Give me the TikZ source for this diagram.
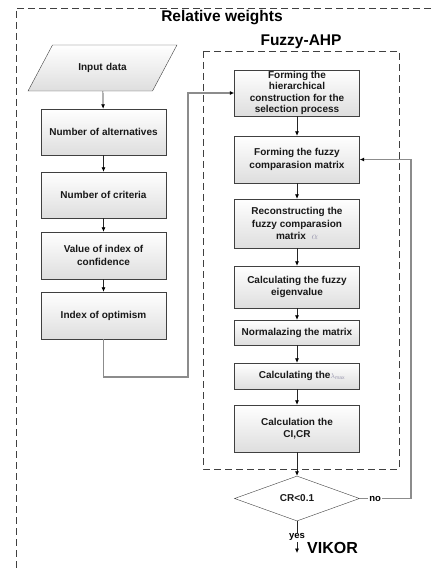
\documentclass[tikz,border=0pt]{standalone}
\usepackage{fontspec}
\setmainfont{Liberation Sans}
\usetikzlibrary{positioning,shapes.geometric,arrows.meta,calc}
\definecolor{bxline}{HTML}{404040}
\definecolor{lnk}{HTML}{8C8C8C}
\definecolor{mathgrey}{HTML}{9A98B0}
\tikzset{
  blk/.style ={rectangle, draw=bxline, thin, top color=white, bottom color=black!13,
               text=black!90, align=center, font=\fontsize{10}{12.5}\selectfont\bfseries,
               minimum width=125pt, minimum height=46pt, inner sep=1pt},
  io/.style  ={blk, trapezium, trapezium left angle=62, trapezium right angle=118,
               minimum width=0pt, minimum height=0pt, text width=98pt,
               text height=7pt, text depth=2pt, inner xsep=1pt, inner ysep=18.5pt},
  dec/.style ={blk, diamond, aspect=2.8, fill=white, top color=white, bottom color=white,
               minimum width=125pt, minimum height=45pt, inner sep=0pt},
  grp/.style ={draw=bxline, dash pattern=on 7pt off 4pt, line width=0.8pt},
  ttl/.style ={font=\fontsize{15.5}{17}\selectfont\bfseries, inner sep=0pt},
  fl/.style  ={-{Latex[length=4.5pt,width=4pt,color=black]}, draw=black!85, line width=0.7pt},
  flg/.style ={fl, draw=lnk, line width=1.1pt},
  lbl/.style ={font=\fontsize{9.5}{10}\selectfont\bfseries, fill=white, inner sep=1pt}
}

\begin{document}
\begin{tikzpicture}[x=1pt,y=-1pt]
  \useasboundingbox (0,0) rectangle (431,569);
  % --- group frames
  \draw[grp] (431,8) -- (16,8) -- (16,569);
  \draw[grp] (203,51) rectangle (399,469);
  \node[ttl] (tw)  at (222,18) {Relative weights};
  \node[ttl] (tf)  at (301,42) {Fuzzy-AHP};
  % --- left column : inputs
  \node[io]                       (inp)  at (102.5,68)  {Input data};
  \node[blk]                      (alt)  at (103.5,132) {Number of alternatives};
  \node[blk]                      (crit) at (103.5,195) {Number of criteria};
  \node[blk,minimum height=47pt]  (conf) at (103.5,255.5) {Value of index of\\confidence};
  \node[blk,minimum height=47pt]  (opt)  at (103.5,315.5) {Index of optimism};
  % --- right column : fuzzy AHP steps
  \node[blk,font=\fontsize{10}{11.5}\selectfont\bfseries]
                                  (hier) at (297,93)    {Forming the\\hierarchical\\construction for the\\selection process};
  \node[blk,minimum height=47pt]  (fcm)  at (297,159.5) {Forming the fuzzy\\comparasion matrix};
  \node[blk,minimum height=49pt]  (rec)  at (297,223.5) {Reconstructing the\\fuzzy comparasion\\matrix \ \textcolor{mathgrey}{\mdseries$\alpha$}};
  \node[blk,minimum height=42pt]  (eig)  at (297,287)   {Calculating the fuzzy\\eigenvalue};
  \node[blk,minimum height=25pt]  (norm) at (297,332.5) {Normalazing the matrix};
  \node[blk,minimum height=26pt]  (lmax) at (297,376)   {\quad Calculating the\textcolor{mathgrey}{\mdseries\scriptsize$\lambda_{\max}$}};
  \node[blk,minimum height=47pt]  (cicr) at (297,428.5) {Calculation the\\CI,CR};
  \node[dec]                      (dia)  at (297,498.5) {CR<0.1};
  % --- exits
  \coordinate (bend) at (188,377);
  \coordinate (fb)   at (411,498.5);
  \coordinate (vend) at (297,553);
  \node[ttl,font=\fontsize{16}{18}\selectfont\bfseries,anchor=west] (vik) at (307,548) {VIKOR};

  \draw[fl] (inp)--(alt);   \draw[fl] (alt)--(crit);
  \draw[fl] (crit)--(conf); \draw[fl] (conf)--(opt);
  \draw[flg] (opt.south) |- (bend) |- (hier.west);
  \draw[fl] (hier)--(fcm);  \draw[fl] (fcm)--(rec);
  \draw[fl] (rec)--(eig);   \draw[fl] (eig)--(norm);
  \draw[fl] (norm)--(lmax); \draw[fl] (lmax)--(cicr);
  \draw[fl] (cicr)--(dia);
  \draw[flg] (dia.east) -- node[lbl,pos=0.3] (no) {no} (fb) |- (fcm.east);
  \draw[fl] (dia.south) -- node[lbl,pos=0.5] (yes) {yes} (vend);
\end{tikzpicture}
\end{document}
